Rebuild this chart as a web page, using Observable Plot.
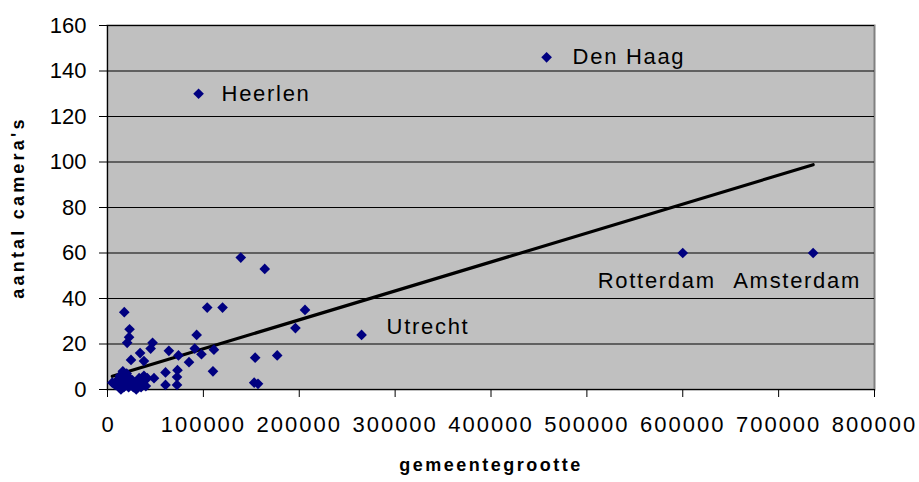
<!DOCTYPE html>
<html>
<head>
<meta charset="utf-8">
<script src="https://cdn.jsdelivr.net/npm/d3@7"></script>
<script src="https://cdn.jsdelivr.net/npm/@observablehq/plot@0.6"></script>
<style>
  html, body { margin: 0; padding: 0; background: #fff; }
  svg { font-family: "Liberation Sans", Arial, sans-serif; }
</style>
</head>
<body>
<div id="chart"></div>
<script>
// gemeentegrootte (inhabitants) and aantal camera's per municipality
const names = [
  "Den Haag", "Heerlen", "Rotterdam", "Amsterdam", "Utrecht",
  "", "", "", "", "", "", "", "", "", "", "", "", "", "", "",
  "", "", "", "", "", "", "", "", "", "", "", "", "", "", "",
  "", "", "", "", "",
  "", "", "", "", "", "", "", "", "", "", "", "", "", "", "",
  "", "", "", "", "", "", "", "", "", ""
];
const sizes = [
  458000, 95000, 600000, 736000, 265000,
  139000, 164000, 104000, 120000, 206000, 196000, 93000, 111000, 91000, 98000,
  154000, 177000, 110000, 153000, 157000, 64000, 74000, 85000, 17500, 23000,
  22500, 20500, 47000, 45000, 34000, 24500, 38000, 60500, 73000, 72500,
  60500, 72500, 48500, 41500, 40000,
  5000, 8000, 10000, 12000, 13000, 15000, 16000, 17000, 18000, 19000,
  20000, 21000, 22000, 23000, 25000, 26000, 27000, 29000, 31000, 33000,
  35000, 36000, 38000, 30000, 14000
];
const cameras = [
  146, 130, 60, 60, 24,
  58, 53, 36, 36, 35, 27, 24, 17.5, 18, 15.5,
  14, 15, 8, 3, 2.5, 17, 15, 12, 34, 26.5,
  23, 20.5, 20.5, 18, 16, 13, 12.5, 7.5, 8.5, 5.5,
  2, 2, 5, 5, 1.5,
  3, 2, 4, 1, 6, 3, 8, 1, 5, 2,
  7, 3, 1, 5, 2, 4, 1, 3, 2, 5,
  1, 3, 6, 0, 0
];
// linear trend line end points
const trendX = [5000, 736000];
const trendY = [5.8, 98.8];

const xTicks = [0, 100000, 200000, 300000, 400000, 500000, 600000, 700000, 800000];
const yTicks = [0, 20, 40, 60, 80, 100, 120, 140, 160];
const xTitle = "gemeentegrootte";
const yTitle = "aantal camera's";

const points = names.map((n, i) => ({name: n, size: sizes[i], cameras: cameras[i]}));
const trend = trendX.map((x, i) => ({x, y: trendY[i]}));
const lbl = (n) => points.filter(d => d.name === n);

const textStyle = {fill: "#000", fontSize: 22, stroke: null};

const chart = Plot.plot({
  width: 919,
  height: 482,
  marginLeft: 107,
  marginRight: 45,
  marginTop: 25,
  marginBottom: 93,
  style: {background: "#fff", color: "#000", fontFamily: "Liberation Sans, Arial, sans-serif"},
  x: {domain: [0, 800000], ticks: xTicks},
  y: {domain: [0, 160], ticks: yTicks},
  marks: [
    Plot.frame({fill: "#c0c0c0", stroke: "#808080", strokeWidth: 2}),
    Plot.gridY(yTicks, {stroke: "#000", strokeOpacity: 1, strokeWidth: 1}),
    Plot.ruleX([0], {stroke: "#000", strokeWidth: 1}),
    Plot.ruleY([0], {stroke: "#000", strokeWidth: 1}),
    Plot.axisX(xTicks, {tickSize: 8, tickPadding: 19, fontSize: 22, tickFormat: d => String(d), label: null}),
    Plot.axisY(yTicks, {tickSize: 8, tickPadding: 13, fontSize: 22, tickFormat: d => String(d), label: null}),
    Plot.line(trend, {x: "x", y: "y", stroke: "#000", strokeWidth: 3.2}),
    Plot.dot(points, {x: "size", y: "cameras", symbol: "diamond2", r: 4.8, fill: "#000080", stroke: null}),
    Plot.text(lbl("Heerlen"), {x: "size", y: "cameras", text: "name", textAnchor: "start", dx: 23, ...textStyle}),
    Plot.text(lbl("Den Haag"), {x: "size", y: "cameras", text: "name", textAnchor: "start", dx: 26, ...textStyle}),
    Plot.text(lbl("Utrecht"), {x: "size", y: "cameras", text: "name", textAnchor: "start", dx: 25, dy: -8, ...textStyle}),
    Plot.text(lbl("Rotterdam"), {x: "size", y: "cameras", text: "name", textAnchor: "middle", dx: -26, dy: 28, ...textStyle}),
    Plot.text(lbl("Amsterdam"), {x: "size", y: "cameras", text: "name", textAnchor: "middle", dx: -16, dy: 28, ...textStyle}),
    Plot.text([xTitle], {frameAnchor: "bottom", textAnchor: "middle", dy: 81, text: d => d, fontSize: 18, fontWeight: "bold", fill: "#000"}),
    Plot.text([yTitle], {frameAnchor: "left", textAnchor: "middle", dx: -89, rotate: -90, text: d => d, fontSize: 18, fontWeight: "bold", fill: "#000"})
  ]
});
document.getElementById("chart").appendChild(chart);

// letter spacing to mimic the wide rendering of the original
const cityNames = new Set(names.filter(n => n));
const xTickLabels = new Set(xTicks.filter(v => v > 0).map(String));
chart.querySelectorAll("text").forEach(t => {
  const s = t.textContent;
  let px = null;
  if (cityNames.has(s)) px = 1.7;
  else if (xTickLabels.has(s)) px = 2;
  else if (s === xTitle) px = 2.5;
  else if (s === yTitle) px = 3.2;
  if (px != null) {
    t.setAttribute("letter-spacing", px + "px");
    t.style.letterSpacing = px + "px";
  }
});
</script>
</body>
</html>
